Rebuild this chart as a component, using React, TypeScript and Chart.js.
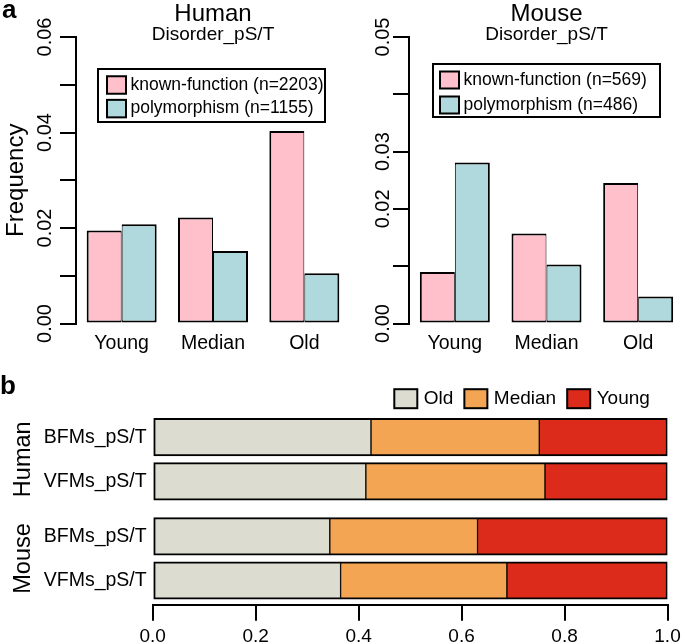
import React, { useEffect, useRef } from 'react';
import { Chart, registerables } from 'chart.js';

Chart.register(...registerables);

const FONT = '"Liberation Sans", Arial, Helvetica, sans-serif';
Chart.defaults.font.family = FONT;
Chart.defaults.color = '#000';

// ---------- Panel a data ----------
const ageGroups = ['Young', 'Median', 'Old'];
const humanKnown = [0.0195, 0.0222, 0.0403];
const humanPoly = [0.0208, 0.0152, 0.0105];
const mouseKnown = [0.009, 0.0157, 0.0245];
const mousePoly = [0.0281, 0.0103, 0.0047];
const humanSeriesNames = ['known-function (n=2203)', 'polymorphism (n=1155)'];
const mouseSeriesNames = ['known-function (n=569)', 'polymorphism (n=486)'];
const humanYTickLabels = ['0.00', '0.02', '0.04', '0.06'];
const mouseYTickLabels = ['0.00', '0.02', '0.03', '0.05'];

// ---------- Panel b data ----------
const rowLabels = ['BFMs_pS/T', 'VFMs_pS/T', 'BFMs_pS/T', 'VFMs_pS/T'];
const rowPositions = [1, 2, 3.25, 4.25];
const groupNames = ['Human', 'Mouse'];
const groupPositions = [1.5, 3.75];
const shareSeriesNames = ['Old', 'Median', 'Young'];
const oldShare = [0.424, 0.414, 0.344, 0.365];
const medianShare = [0.327, 0.348, 0.287, 0.323];
const youngShare = [0.249, 0.238, 0.369, 0.312];

const PINK = '#FFC0CB';
const BLUE = '#B0D9DE';
const OLD = '#DCDDD0';
const MED = '#F4A553';
const YOUNG = '#DC2A1B';

type TextItem = { text: string; x: number; y: number; font: string; baseline?: CanvasTextBaseline; align?: CanvasTextAlign };
type LegendCfg = {
  frame?: { x: number; y: number; w: number; h: number };
  x: number; y: number; sw: number; sh: number; gap: number;
  rowH?: number; horizontal?: boolean; itemGap?: number; font: string;
};

function makeExtras(texts: TextItem[], legend?: LegendCfg) {
  return {
    id: 'extras',
    afterDraw(chart: any) {
      const ctx = chart.ctx as CanvasRenderingContext2D;
      ctx.save();
      texts.forEach((t) => {
        ctx.font = t.font;
        ctx.fillStyle = '#000';
        ctx.textAlign = t.align || 'left';
        ctx.textBaseline = t.baseline || 'alphabetic';
        ctx.fillText(t.text, t.x, t.y);
      });
      if (legend) {
        ctx.font = legend.font;
        ctx.textBaseline = 'middle';
        ctx.textAlign = 'left';
        if (legend.frame) {
          ctx.lineWidth = 2;
          ctx.strokeStyle = '#000';
          const f = legend.frame;
          ctx.strokeRect(f.x, f.y, f.w, f.h);
        }
        let x = legend.x;
        let y = legend.y;
        chart.data.datasets.forEach((ds: any) => {
          ctx.fillStyle = ds.backgroundColor;
          ctx.fillRect(x, y - legend.sh / 2, legend.sw, legend.sh);
          ctx.lineWidth = 2;
          ctx.strokeStyle = '#000';
          ctx.strokeRect(x, y - legend.sh / 2, legend.sw, legend.sh);
          ctx.fillStyle = '#000';
          ctx.fillText(ds.label, x + legend.sw + legend.gap, y);
          if (legend.horizontal) {
            x += legend.sw + legend.gap + ctx.measureText(ds.label).width + (legend.itemGap || 10);
          } else {
            y += legend.rowH || 24;
          }
        });
      }
      ctx.restore();
    },
  };
}

function freqChart(
  canvas: HTMLCanvasElement,
  title: string,
  names: string[],
  known: number[],
  poly: number[],
  yMax: number,
  tickLabels: string[],
  opts: { axisW: number; padRight: number; catPct: number; tickPad: number; showYTitle: boolean },
  extras: any
) {
  return new Chart(canvas, {
    type: 'bar',
    data: {
      labels: ageGroups,
      datasets: [
        {
          label: names[0],
          data: known,
          backgroundColor: PINK,
          borderColor: '#000',
          borderWidth: { left: 2, right: 1, top: 2, bottom: 2 },
          borderSkipped: false,
        },
        {
          label: names[1],
          data: poly,
          backgroundColor: BLUE,
          borderColor: '#000',
          borderWidth: { left: 1, right: 2, top: 2, bottom: 2 },
          borderSkipped: false,
        },
      ],
    },
    options: {
      animation: false,
      responsive: false,
      maintainAspectRatio: false,
      layout: { padding: { left: 0, right: opts.padRight, top: 0, bottom: 0 } },
      datasets: { bar: { categoryPercentage: opts.catPct, barPercentage: 1 } },
      plugins: {
        legend: { display: false },
        tooltip: { enabled: false },
        title: {
          display: true,
          text: title,
          fullSize: false,
          color: '#000',
          font: { family: FONT, size: 24, weight: 'normal', lineHeight: 1.2 },
          padding: { top: 0, bottom: 0 },
        },
        subtitle: {
          display: true,
          text: 'Disorder_pS/T',
          fullSize: false,
          color: '#000',
          font: { family: FONT, size: 19, weight: 'normal', lineHeight: 1.2 },
          padding: { top: -5.2, bottom: -9.4 },
        },
      },
      scales: {
        x: {
          grid: { display: false, drawTicks: false },
          border: { display: false },
          ticks: { color: '#000', font: { family: FONT, size: 19.5 }, padding: 8.7, autoSkip: false, maxRotation: 0 },
          afterFit: (s: any) => {
            s.height = 36.5;
            s.paddingLeft = 0;
            s.paddingRight = 0;
          },
        },
        y: {
          min: 0,
          max: yMax,
          border: { display: true, color: '#000', width: 2 },
          grid: { drawOnChartArea: false, drawTicks: true, tickLength: 16, color: '#000', lineWidth: 2 },
          ticks: {
            stepSize: 0.01,
            autoSkip: false,
            minRotation: 90,
            maxRotation: 90,
            crossAlign: 'center',
            padding: opts.tickPad,
            color: '#000',
            font: { family: FONT, size: 20 },
            callback: (v: any) => {
              const s = Number(v).toFixed(2);
              return tickLabels.includes(s) ? s : '';
            },
          },
          title: {
            display: opts.showYTitle,
            text: 'Frequency',
            color: '#000',
            font: { family: FONT, size: 24 },
            padding: { top: 2, bottom: 0 },
          },
          afterFit: (s: any) => {
            s.width = opts.axisW;
            s.paddingTop = 0;
            s.paddingBottom = 0;
          },
        },
      },
    } as any,
    plugins: [extras],
  });
}

function shareChart(canvas: HTMLCanvasElement) {
  const mk = (vals: number[]) => rowPositions.map((p, i) => ({ x: vals[i], y: p }));
  return new Chart(canvas, {
    type: 'bar',
    data: {
      datasets: [
        { label: shareSeriesNames[0], data: mk(oldShare), backgroundColor: OLD, borderWidth: { left: 2, right: 1, top: 2, bottom: 2 } },
        { label: shareSeriesNames[1], data: mk(medianShare), backgroundColor: MED, borderWidth: { left: 1, right: 1, top: 2, bottom: 2 } },
        { label: shareSeriesNames[2], data: mk(youngShare), backgroundColor: YOUNG, borderWidth: { left: 1, right: 2, top: 2, bottom: 2 } },
      ] as any,
    },
    options: {
      animation: false,
      responsive: false,
      maintainAspectRatio: false,
      indexAxis: 'y',
      layout: { padding: { left: 0, right: 17.5, top: 70.75, bottom: 0 } },
      datasets: { bar: { barThickness: 37.5, borderSkipped: false, borderColor: '#000' } },
      plugins: { legend: { display: false }, tooltip: { enabled: false } },
      scales: {
        x: {
          type: 'linear',
          min: 0,
          max: 1,
          stacked: true,
          bounds: 'data',
          offset: false,
          border: { display: true, color: '#000', width: 2 },
          grid: { drawOnChartArea: false, drawTicks: true, tickLength: 16, color: '#000', lineWidth: 2, offset: false },
          ticks: {
            stepSize: 0.2,
            autoSkip: false,
            maxRotation: 0,
            padding: 4.5,
            color: '#000',
            font: { family: FONT, size: 19 },
            callback: (v: any) => Number(v).toFixed(1),
          },
          afterFit: (s: any) => {
            s.height = 39.25;
            s.paddingLeft = 0;
            s.paddingRight = 0;
          },
        },
        y: {
          type: 'linear',
          position: 'left',
          min: 0.4,
          max: 4.8,
          reverse: true,
          stacked: true,
          bounds: 'data',
          offset: false,
          weight: 0,
          grid: { display: false, drawTicks: false, offset: false },
          border: { display: false },
          afterBuildTicks: (s: any) => {
            s.ticks = rowPositions.map((v) => ({ value: v }));
          },
          ticks: {
            autoSkip: false,
            padding: 6,
            color: '#000',
            font: { family: FONT, size: 19.5 },
            callback: (_v: any, i: number) => rowLabels[i],
          },
          afterFit: (s: any) => {
            s.width = 110;
            s.paddingTop = 0;
            s.paddingBottom = 0;
          },
        },
        group: {
          type: 'linear',
          axis: 'y',
          position: 'left',
          min: 0.4,
          max: 4.8,
          reverse: true,
          bounds: 'data',
          offset: false,
          weight: 10,
          grid: { display: false, drawTicks: false, offset: false },
          border: { display: false },
          afterBuildTicks: (s: any) => {
            s.ticks = groupPositions.map((v) => ({ value: v }));
          },
          ticks: {
            autoSkip: false,
            minRotation: 90,
            maxRotation: 90,
            crossAlign: 'center',
            padding: -18.7,
            color: '#000',
            font: { family: FONT, size: 23.5 },
            callback: (_v: any, i: number) => groupNames[i],
          },
          afterFit: (s: any) => {
            s.width = 42.7;
            s.paddingTop = 0;
            s.paddingBottom = 0;
          },
        },
      },
    } as any,
    plugins: [
      makeExtras(
        [{ text: 'b', x: 0, y: 54, font: `bold 26px ${FONT}` }],
        { x: 394.3, y: 58.7, sw: 23, sh: 19, gap: 6.5, horizontal: true, itemGap: 11, font: `19px ${FONT}` }
      ),
    ],
  });
}

export default function App() {
  const humanRef = useRef<HTMLCanvasElement>(null);
  const mouseRef = useRef<HTMLCanvasElement>(null);
  const shareRef = useRef<HTMLCanvasElement>(null);

  useEffect(() => {
    const charts: Chart[] = [];
    if (humanRef.current) {
      charts.push(
        freqChart(
          humanRef.current,
          'Human',
          humanSeriesNames,
          humanKnown,
          humanPoly,
          0.06,
          humanYTickLabels,
          { axisW: 76, padRight: 5, catPct: 70 / 91.33, tickPad: -4.95, showYTitle: true },
          makeExtras(
            [{ text: 'a', x: 2, y: 18, font: `bold 26px ${FONT}` }],
            { frame: { x: 98, y: 69, w: 227, h: 53 }, x: 107, y: 85, sw: 19, sh: 17.5, gap: 4.5, rowH: 23.6, font: `17.5px ${FONT}` }
          )
        )
      );
    }
    if (mouseRef.current) {
      charts.push(
        freqChart(
          mouseRef.current,
          'Mouse',
          mouseSeriesNames,
          mouseKnown,
          mousePoly,
          0.05,
          mouseYTickLabels,
          { axisW: 69, padRight: 1, catPct: 70 / 91.67, tickPad: -9.45, showYTitle: false },
          makeExtras([], { frame: { x: 93, y: 64, w: 227, h: 53 }, x: 100, y: 80, sw: 19, sh: 17, gap: 4.5, rowH: 25, font: `17.5px ${FONT}` })
        )
      );
    }
    if (shareRef.current) charts.push(shareChart(shareRef.current));
    return () => charts.forEach((c) => c.destroy());
  }, []);

  return (
    <div style={{ position: 'fixed', left: 0, top: 0, width: 685, height: 644, background: '#fff', overflow: 'hidden' }}>
      <canvas ref={humanRef} width={355} height={360} style={{ position: 'absolute', left: 0, top: 0, width: 355, height: 360, display: 'block' }} />
      <canvas ref={mouseRef} width={345} height={360} style={{ position: 'absolute', left: 340, top: 0, width: 345, height: 360, display: 'block' }} />
      <canvas ref={shareRef} width={685} height={304} style={{ position: 'absolute', left: 0, top: 340, width: 685, height: 304, display: 'block' }} />
    </div>
  );
}
